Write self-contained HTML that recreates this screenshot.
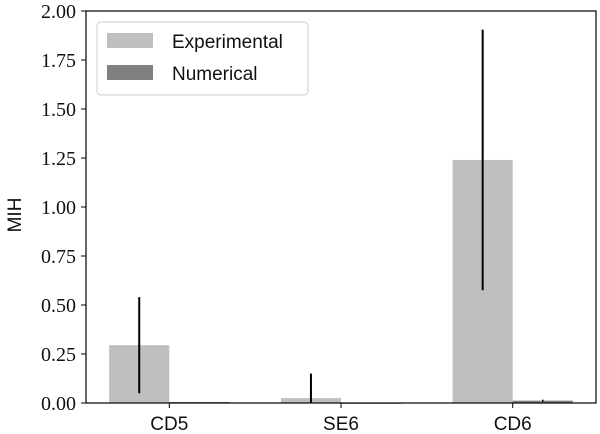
<!DOCTYPE html>
<html><head><meta charset="utf-8"><style>
body{margin:0;background:#fff}
svg{display:block}
.tk{font-family:"Liberation Serif",serif;font-size:20px;fill:#111}
.lb{font-family:"Liberation Sans",sans-serif;font-size:19px;fill:#111}
</style></head><body>
<svg id="chart" width="600" height="434" viewBox="0 0 600 434" xmlns="http://www.w3.org/2000/svg">
<g id="plot"></g>
<text class="lb" transform="translate(21,215) rotate(-90)" text-anchor="middle">MIH</text>
<g>
<rect x="97" y="22" width="211" height="73" rx="4" fill="#fff" stroke="#ccc" stroke-width="1"/>
<rect x="107" y="33" width="46" height="15" fill="#bfbfbf"/>
<text class="lb" x="172" y="48">Experimental</text>
<rect x="107" y="65" width="46" height="15" fill="#808080"/>
<text class="lb" x="172" y="80">Numerical</text>
</g>
</svg>
<script>
const categories=["CD5","SE6","CD6"];
const experimental=[0.295,0.025,1.24];
const experimentalErr=[0.245,0.125,0.665];
const numerical=[0.005,0.001,0.012];
const numericalErr=[0,0,0.005];
const yTicks=[0,0.25,0.5,0.75,1.0,1.25,1.5,1.75,2.0];
const yTickLabels=["0.00","0.25","0.50","0.75","1.00","1.25","1.50","1.75","2.00"];

const L=86,R=596,T=11,B=403;
const xMin=-0.485,xMax=2.485,yMin=0,yMax=2;
const X=v=>L+(v-xMin)/(xMax-xMin)*(R-L);
const Y=v=>B-(v-yMin)/(yMax-yMin)*(B-T);
const NS="http://www.w3.org/2000/svg";
const g=document.getElementById('plot');
function mk(tag,attrs){const e=document.createElementNS(NS,tag);for(const k in attrs)e.setAttribute(k,attrs[k]);g.appendChild(e);return e;}
const w=0.35;
categories.forEach((c,i)=>{
  const y0=Y(0);
  const ye=Y(Math.max(experimental[i],0));
  const b1=mk('rect',{x:X(i-w),y:ye,width:X(i)-X(i-w),height:y0-ye,fill:'#bfbfbf'});
  
  
  const yn=Y(numerical[i]);
  const b2=mk('rect',{x:X(i),y:yn,width:X(i+w)-X(i),height:Math.max(y0-yn,1),fill:'#808080'});
  
  
  const cx=X(i-w/2);
  const e1=mk('line',{x1:cx,x2:cx,y1:Y(Math.max(experimental[i]-experimentalErr[i],0)),y2:Y(experimental[i]+experimentalErr[i]),stroke:'#000','stroke-width':2});
  
  
  if(numericalErr[i]>0){
    const nx=X(i+w/2);
    const e2=mk('line',{x1:nx,x2:nx,y1:Y(Math.max(numerical[i]-numericalErr[i],0)),y2:Y(numerical[i]+numericalErr[i]),stroke:'#000','stroke-width':1.5});
    
    
  }
  const tx=X(i);
  const tl=mk('line',{x1:tx,x2:tx,y1:B,y2:B+5,stroke:'#000','stroke-width':1});
  
  
  const t=mk('text',{x:tx,y:B+27,'text-anchor':'middle',class:'lb'});
  t.textContent=c;
  
  
});
yTicks.forEach((v,i)=>{
  const y=Y(v);
  const tl=mk('line',{x1:L-5,x2:L,y1:y,y2:y,stroke:'#000','stroke-width':1});
  
  
  const t=mk('text',{x:L-10,y:y+7,'text-anchor':'end',class:'tk'});
  t.textContent=yTickLabels[i];
  
  
});
const fr=mk('rect',{x:L,y:T,width:R-L,height:B-T,fill:'none',stroke:'#000','stroke-width':1.2});


</script>
</body></html>
